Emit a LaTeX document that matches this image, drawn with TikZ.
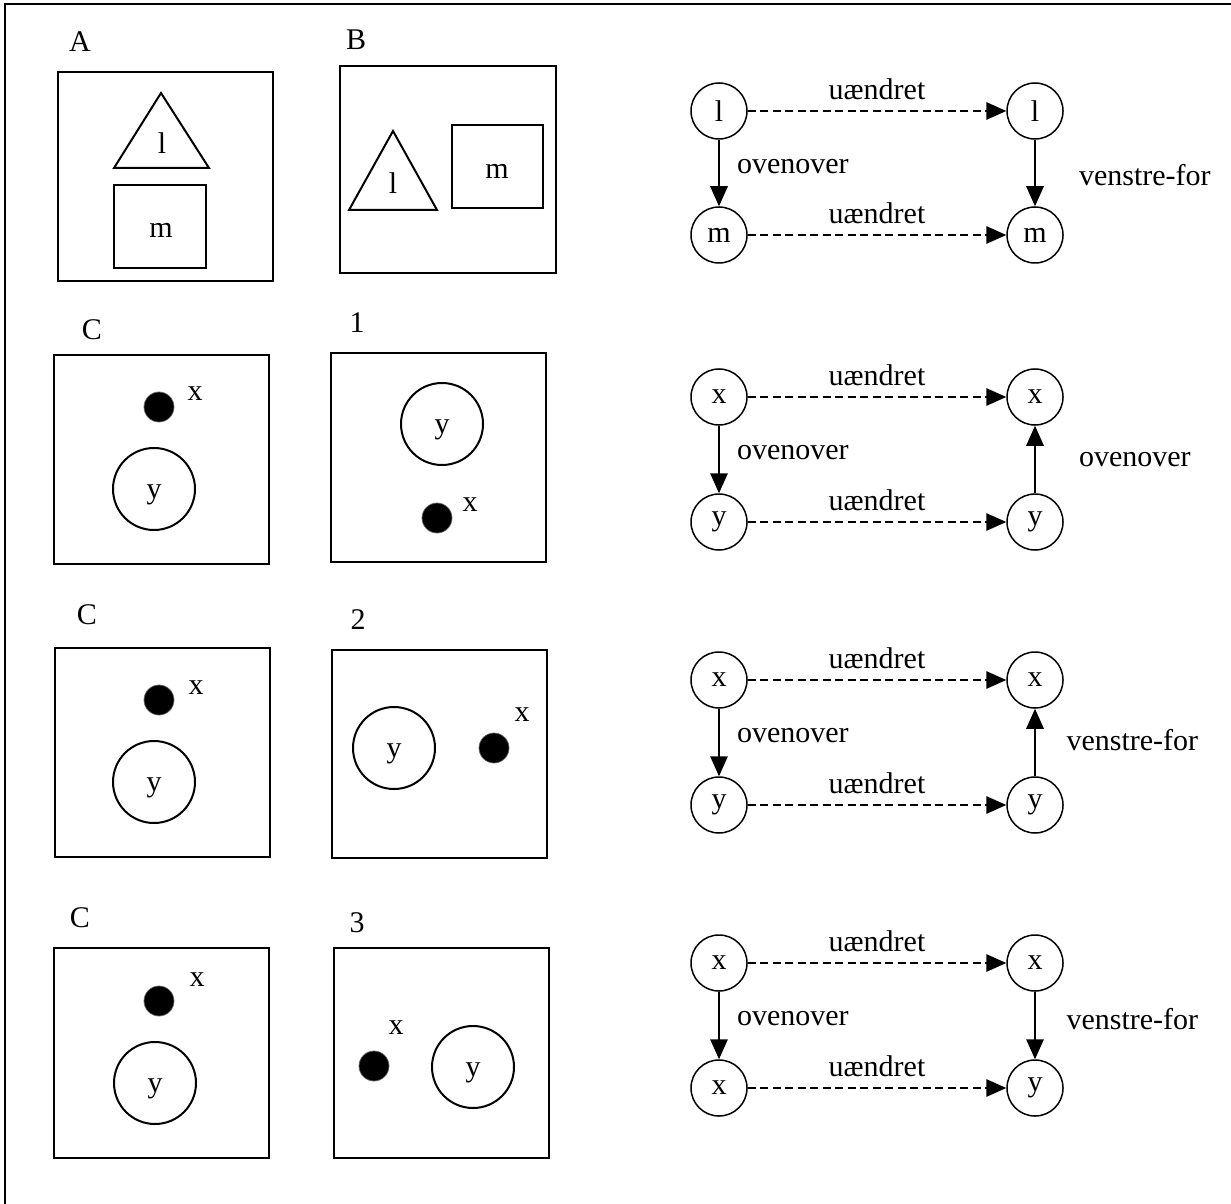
\documentclass[tikz,border=0pt]{standalone}
\usepackage{fontspec}
\setmainfont{Liberation Serif}
\usepackage{tkz-euclide}
\usepackage{tikz}
\usetikzlibrary{arrows.meta}
\usetikzlibrary{positioning}
\tikzset{>={Triangle[length=8pt,width=7pt]}}
\colorlet{background}{white}
\colorlet{inkColor}{black}
\colorlet{dotColor}{black}
\tikzset{obj/.style={circle,draw=inkColor,line width=.6pt,minimum size=22.4pt,inner sep=0pt},
  same/.style={->,inkColor,line width=.6pt,dash pattern=on 3.2pt off 1.8pt},
  rel/.style={->,inkColor,line width=.6pt},
  dot/.style={fill=dotColor,draw=inkColor!60,line width=.3pt}}

\begin{document}
\begin{tikzpicture}[x=.4pt,y=-.4pt,line width=.8pt,font=\fontsize{12}{14}\selectfont]
    \useasboundingbox[fill=background] (0,0) rectangle (1231,1204);
    \tkzDefPoint(5,1204){F1}
    \tkzDefPoint(5,4){F2}
    \tkzDefPoint(1231,4){F3}
    \draw[inkColor] (F1)--(F2)--(F3);

    \node (labA) at (80,42) {A};
    \draw[inkColor] (58,72) rectangle (273,281);
    \tkzDefPoint(161,93){A1}
    \tkzDefPoint(114,168){A2}
    \tkzDefPoint(209,168){A3}
    \draw[inkColor] (A1)--(A2)--(A3)--cycle;
    \node (lA) at (162,143) {l};
    \draw[inkColor] (114,185) rectangle (206,268);
    \node (mA) at (161,230) {m};

    \node (labB) at (356,40) {B};
    \draw[inkColor] (340,66) rectangle (556,273);
    \tkzDefPoint(393,131){B1}
    \tkzDefPoint(349,210){B2}
    \tkzDefPoint(437,210){B3}
    \draw[inkColor] (B1)--(B2)--(B3)--cycle;
    \node (lB) at (393,183) {l};
    \draw[inkColor] (452,125) rectangle (543,208);
    \node (mB) at (497,171) {m};

    \node (labC1) at (92,330) {C};
    \draw[inkColor] (54,355) rectangle (269,564);
    \fill[dot] (159,407) circle (15);
    \node (xC1) at (195,394) {x};
    \draw[inkColor] (154,489) circle (41);
    \node (yC1) at (154,495) {y};

    \node (lab1) at (357,323) {1};
    \draw[inkColor] (331,353) rectangle (546,562);
    \draw[inkColor] (442,424) circle (41);
    \node (y1) at (442,430) {y};
    \fill[dot] (437,518) circle (15);
    \node (x1) at (470,505) {x};

    \node (labC2) at (87,615) {C};
    \draw[inkColor] (55,648) rectangle (270,857);
    \fill[dot] (159,700) circle (15);
    \node (xC2) at (196,688) {x};
    \draw[inkColor] (154,782) circle (41);
    \node (yC2) at (154,788) {y};

    \node (lab2) at (358,620) {2};
    \draw[inkColor] (332,650) rectangle (547,858);
    \draw[inkColor] (394,748) circle (41);
    \node (y2) at (394,754) {y};
    \fill[dot] (494,748) circle (15);
    \node (x2) at (522,715) {x};

    \node (labC3) at (80,918) {C};
    \draw[inkColor] (54,948) rectangle (269,1158);
    \fill[dot] (159,1001) circle (15);
    \node (xC3) at (197,980) {x};
    \draw[inkColor] (155,1083) circle (41);
    \node (yC3) at (155,1089) {y};

    \node (lab3) at (357,923) {3};
    \draw[inkColor] (334,948) rectangle (549,1158);
    \fill[dot] (374,1066) circle (15);
    \node (x3) at (396,1028) {x};
    \draw[inkColor] (473,1067) circle (41);
    \node (y3) at (473,1073) {y};

    \node[obj] (l1) at (719,111) {l};
    \node[obj] (l2) at (1035,111) {l};
    \node[obj] (m1) at (719,235) {m};
    \node[obj] (m2) at (1035,235) {m};
    \draw[same] (l1) -- node[above=1pt] {uændret} (l2);
    \draw[same] (m1) -- node[above=1pt] {uændret} (m2);
    \draw[rel] (l1) -- node[pos=.4,right=3.6pt] {ovenover} (m1);
    \draw[rel] (l2) -- node[pos=.53,right=14pt] {venstre-for} (m2);

    \node[obj] (x4) at (719,397) {x};
    \node[obj] (x5) at (1035,397) {x};
    \node[obj] (y4) at (719,522) {y};
    \node[obj] (y5) at (1035,522) {y};
    \draw[same] (x4) -- node[above=1pt] {uændret} (x5);
    \draw[same] (y4) -- node[above=1pt] {uændret} (y5);
    \draw[rel] (x4) -- node[pos=.4,right=3.6pt] {ovenover} (y4);
    \draw[rel] (y5) -- node[pos=.5,right=14pt] {ovenover} (x5);

    \node[obj] (x6) at (719,680) {x};
    \node[obj] (x7) at (1035,680) {x};
    \node[obj] (y6) at (719,805) {y};
    \node[obj] (y7) at (1035,805) {y};
    \draw[same] (x6) -- node[above=1pt] {uændret} (x7);
    \draw[same] (y6) -- node[above=1pt] {uændret} (y7);
    \draw[rel] (x6) -- node[pos=.4,right=3.6pt] {ovenover} (y6);
    \draw[rel] (y7) -- node[pos=.53,right=9pt] {venstre-for} (x7);

    \node[obj] (x8) at (719,963) {x};
    \node[obj] (x9) at (1035,963) {x};
    \node[obj] (x10) at (719,1088) {x};
    \node[obj] (y9) at (1035,1088) {y};
    \draw[same] (x8) -- node[above=1pt] {uændret} (x9);
    \draw[same] (x10) -- node[above=1pt] {uændret} (y9);
    \draw[rel] (x8) -- node[pos=.4,right=3.6pt] {ovenover} (x10);
    \draw[rel] (x9) -- node[pos=.4,right=9pt] {venstre-for} (y9);
  \end{tikzpicture}
\end{document}
